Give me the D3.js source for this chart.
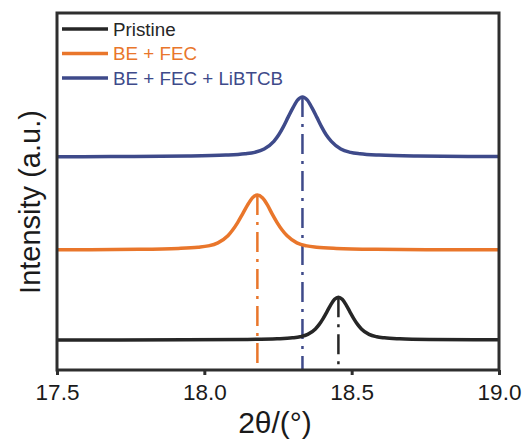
<!DOCTYPE html>
<html>
<head>
<meta charset="utf-8">
<script src="https://cdn.jsdelivr.net/npm/d3@7/dist/d3.min.js"></script>
<style>
  html, body { margin: 0; padding: 0; background: #fff; }
  svg { display: block; font-family: "Liberation Sans", Arial, sans-serif; }
</style>
</head>
<body>
<svg id="chart" width="526" height="440"></svg>
<script>
// XRD (003) region, vertically offset patterns
const seriesNames = ["Pristine", "BE + FEC", "BE + FEC + LiBTCB"];
const seriesColors = ["#262626", "#e9762b", "#3e4a8a"];
const peakPositions = [18.455, 18.18, 18.333];

const pristineX = [17.5, 17.935, 18.143, 18.247, 18.299, 18.325, 18.351, 18.377, 18.39, 18.403, 18.416, 18.429, 18.442, 18.455,
  18.468, 18.481, 18.494, 18.507, 18.52, 18.533, 18.559, 18.585, 18.611, 18.663, 18.767, 18.975, 19.0];
const pristineY = [0.842, 0.846, 0.856, 0.875, 0.901, 0.931, 0.998, 1.151, 1.277, 1.44, 1.63, 1.825, 1.979, 2.04,
  1.979, 1.825, 1.63, 1.44, 1.277, 1.151, 0.998, 0.931, 0.901, 0.875, 0.856, 0.846, 0.845];

const beFecX = [17.5, 17.778, 17.912, 17.979, 18.013, 18.046, 18.08, 18.096, 18.113, 18.13, 18.147, 18.163, 18.18,
  18.197, 18.214, 18.23, 18.247, 18.264, 18.281, 18.314, 18.348, 18.381, 18.448, 18.582, 18.85, 19.0];
const beFecY = [3.368, 3.381, 3.405, 3.439, 3.476, 3.562, 3.759, 3.921, 4.13, 4.374, 4.624, 4.822, 4.90,
  4.822, 4.624, 4.374, 4.13, 3.921, 3.759, 3.562, 3.476, 3.439, 3.405, 3.381, 3.368, 3.365];

const libtcbX = [17.5, 17.683, 17.943, 18.073, 18.138, 18.171, 18.203, 18.236, 18.252, 18.268, 18.284, 18.301, 18.317, 18.333,
  18.349, 18.365, 18.382, 18.398, 18.414, 18.431, 18.463, 18.496, 18.528, 18.593, 18.723, 18.983, 19.0];
const libtcbY = [5.975, 5.978, 5.993, 6.019, 6.056, 6.097, 6.191, 6.405, 6.582, 6.81, 7.076, 7.349, 7.565, 7.65,
  7.565, 7.349, 7.076, 6.81, 6.582, 6.405, 6.191, 6.097, 6.056, 6.019, 5.993, 5.978, 5.977];

const xTicks = [17.5, 18.0, 18.5, 19.0];

const allX = [pristineX, beFecX, libtcbX];
const allY = [pristineY, beFecY, libtcbY];

const svg = d3.select("#chart");
const plotLeft = 57, plotRight = 499, plotTop = 13, plotBottom = 370;

const x = d3.scaleLinear().domain([17.5, 19.0]).range([plotLeft, plotRight]);
const y = d3.scaleLinear().domain([0, 10]).range([plotBottom, plotTop]);

const line = d3.line()
  .x(d => x(d[0]))
  .y(d => y(d[1]))
  .curve(d3.curveMonotoneX);

// dash-dot markers from each peak down to the axis
peakPositions.forEach((p, i) => {
  const peakY = d3.max(allY[i]);
  svg.append("line")
    .attr("x1", x(p)).attr("x2", x(p))
    .attr("y1", y(peakY)).attr("y2", plotBottom)
    .attr("stroke", seriesColors[i])
    .attr("stroke-width", 2.5)
    .attr("stroke-dasharray", "20,7,3,7");
});

// patterns
allX.forEach((xs, i) => {
  const pts = xs.map((v, j) => [v, allY[i][j]]);
  svg.append("path")
    .datum(pts)
    .attr("d", line)
    .attr("fill", "none")
    .attr("stroke", seriesColors[i])
    .attr("stroke-width", 3.5)
    .attr("stroke-linejoin", "round");
});

// frame
svg.append("rect")
  .attr("x", plotLeft).attr("y", plotTop)
  .attr("width", plotRight - plotLeft).attr("height", plotBottom - plotTop)
  .attr("fill", "none")
  .attr("stroke", "#2e2e2e")
  .attr("stroke-width", 3);

// bottom axis
const xAxis = d3.axisBottom(x)
  .tickValues(xTicks)
  .tickFormat(d3.format(".1f"))
  .tickSize(5)
  .tickSizeOuter(0);
const gx = svg.append("g").attr("transform", `translate(0,${plotBottom})`).call(xAxis);
gx.select(".domain").remove();
gx.selectAll(".tick line").attr("stroke", "#2e2e2e").attr("stroke-width", 3);
gx.selectAll(".tick text")
  .attr("fill", "#1a1a1a")
  .attr("font-size", 22.5)
  .attr("font-family", "Liberation Sans, Arial, sans-serif")
  .attr("dy", null)
  .attr("y", 30);

// axis titles
svg.append("text")
  .attr("x", 275).attr("y", 433)
  .attr("text-anchor", "middle")
  .attr("font-size", 30)
  .attr("fill", "#1a1a1a")
  .text("2θ/(°)");

svg.append("text")
  .attr("transform", `translate(40,202) rotate(-90)`)
  .attr("text-anchor", "middle")
  .attr("font-size", 29)
  .attr("fill", "#1a1a1a")
  .text("Intensity (a.u.)");

// legend
const legend = svg.append("g");
seriesNames.forEach((name, i) => {
  const ly = 29 + i * 24.5;
  legend.append("line")
    .attr("x1", 62).attr("x2", 108)
    .attr("y1", ly).attr("y2", ly)
    .attr("stroke", seriesColors[i])
    .attr("stroke-width", 3.5);
  legend.append("text")
    .attr("x", 113).attr("y", ly + 6.5)
    .attr("font-size", 18.8)
    .attr("fill", seriesColors[i])
    .text(name);
});
</script>
</body>
</html>
